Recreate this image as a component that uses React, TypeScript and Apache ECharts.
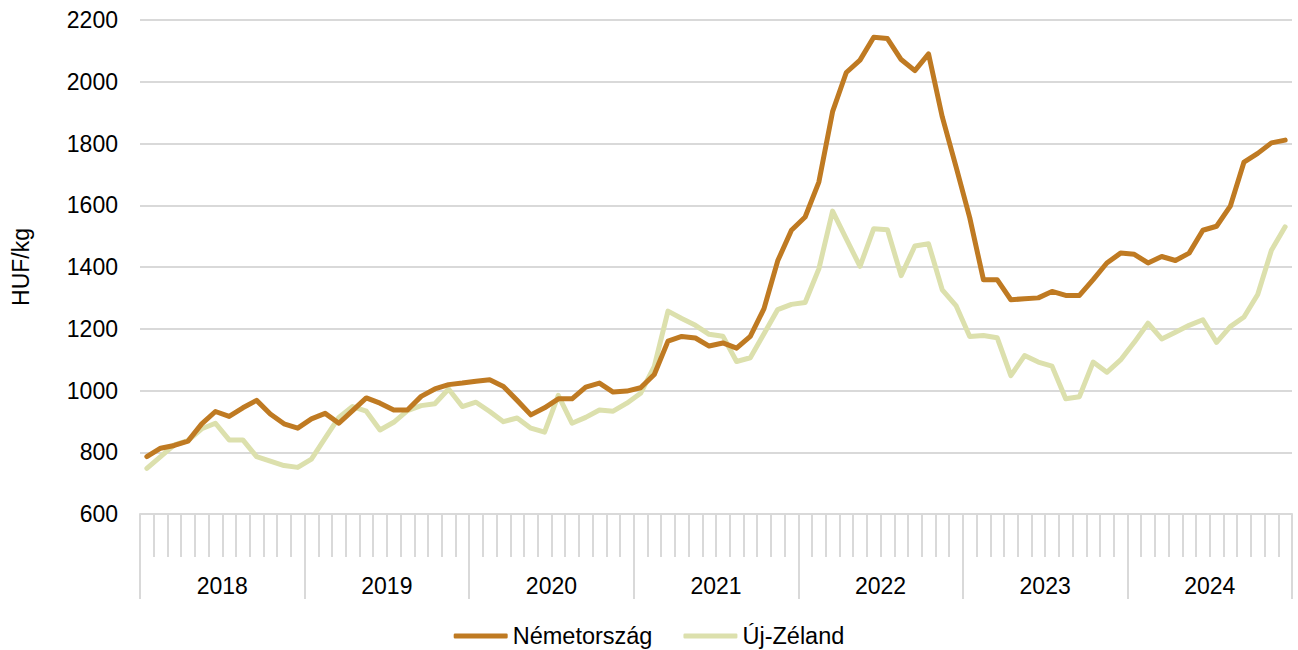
import React, { useEffect, useRef } from "react";
import * as echarts from "echarts";

const years = ["2018", "2019", "2020", "2021", "2022", "2023", "2024"];
const monthsPerYear = 12;
const monthLabels: string[] = [];
years.forEach((y) => {
  for (let m = 1; m <= monthsPerYear; m++) monthLabels.push(`${y}-${m < 10 ? "0" + m : m}`);
});

const germany = [
  786, 813, 822, 836, 892, 932, 916, 944, 968, 924, 892, 878,
  908, 926, 894, 935, 976, 959, 937, 937, 981, 1005, 1019, 1024,
  1030, 1035, 1013, 968, 921, 944, 973, 973, 1011, 1024, 995, 998,
  1009, 1052, 1160, 1175, 1170, 1144, 1154, 1137, 1175, 1265, 1420, 1519,
  1562, 1675, 1903, 2030, 2070, 2144, 2140, 2072, 2036, 2090, 1886, 1725,
  1560, 1359, 1359, 1294, 1297, 1300, 1321, 1308, 1308, 1359, 1413, 1445,
  1441, 1413, 1434, 1421, 1445, 1519, 1532, 1597, 1740, 1768, 1802, 1811,
];

const newZealand = [
  748, 786, 824, 838, 876, 894, 840, 840, 786, 771, 757, 751,
  778, 846, 913, 948, 933, 872, 897, 935, 951, 957, 1005, 948,
  962, 932, 899, 911, 878, 865, 984, 894, 913, 937, 933, 959,
  991, 1078, 1257, 1233, 1211, 1182, 1176, 1094, 1106, 1184, 1262, 1279,
  1285, 1394, 1581, 1491, 1402, 1524, 1521, 1372, 1468, 1475, 1326, 1275,
  1175, 1178, 1171, 1048, 1113, 1092, 1079, 973, 980, 1092, 1059, 1099,
  1156, 1218, 1167, 1189, 1211, 1229, 1156, 1207, 1238, 1311, 1454, 1530,
];

const seriesNames = ["Németország", "Új-Zéland"];
const yAxisName = "HUF/kg";

export default function App() {
  const ref = useRef<HTMLDivElement>(null);
  useEffect(() => {
    document.body.style.margin = "0";
    if (!ref.current) return;
    const chart = echarts.init(ref.current, null, { renderer: "svg" });
    const font = "'Liberation Sans', Arial, sans-serif";
    const gridColor = "#d9d9d9";
    chart.setOption({
      animation: false,
      textStyle: { fontFamily: font },
      grid: { left: 140, right: 6, top: 20, bottom: 136 },
      legend: {
        data: seriesNames,
        left: "center",
        top: 619,
        icon: "roundRect",
        itemWidth: 54,
        itemHeight: 5,
        itemGap: 31,
        textStyle: { fontSize: 23.5, color: "#000", fontFamily: font },
      },
      xAxis: [
        {
          type: "category",
          data: monthLabels,
          boundaryGap: true,
          axisLine: { show: true, lineStyle: { color: gridColor, width: 2 } },
          axisTick: { show: true, interval: 0, length: 43, lineStyle: { color: gridColor, width: 2 } },
          axisLabel: { show: false },
          splitLine: { show: false },
        },
        {
          type: "category",
          data: years,
          position: "bottom",
          boundaryGap: true,
          axisLine: { show: false },
          axisTick: { show: true, interval: 0, length: 85, lineStyle: { color: gridColor, width: 2 } },
          axisLabel: { show: true, interval: 0, margin: 60, fontSize: 23, color: "#000", fontFamily: font },
          splitLine: { show: false },
        },
      ],
      yAxis: {
        type: "value",
        min: 600,
        max: 2200,
        interval: 200,
        name: yAxisName,
        nameLocation: "middle",
        nameRotate: 90,
        nameGap: 108,
        nameTextStyle: { fontSize: 23, color: "#000", fontFamily: font },
        axisLine: { show: false },
        axisTick: { show: false },
        axisLabel: {
          fontSize: 23,
          color: "#000",
          margin: 22,
          fontFamily: font,
          formatter: (v: number) => String(v),
        },
        splitLine: { show: true, lineStyle: { color: gridColor, width: 2 } },
      },
      series: [
        {
          name: seriesNames[0],
          type: "line",
          data: germany,
          xAxisIndex: 0,
          symbol: "none",
          lineStyle: { color: "#BF7A22", width: 5, cap: "round", join: "round" },
          itemStyle: { color: "#BF7A22" },
          z: 3,
        },
        {
          name: seriesNames[1],
          type: "line",
          data: newZealand,
          xAxisIndex: 0,
          symbol: "none",
          lineStyle: { color: "#DCE0AD", width: 5, cap: "round", join: "round" },
          itemStyle: { color: "#DCE0AD" },
          z: 2,
        },
      ],
    });
    return () => chart.dispose();
  }, []);
  return <div ref={ref} style={{ width: 1298, height: 650 }} />;
}
